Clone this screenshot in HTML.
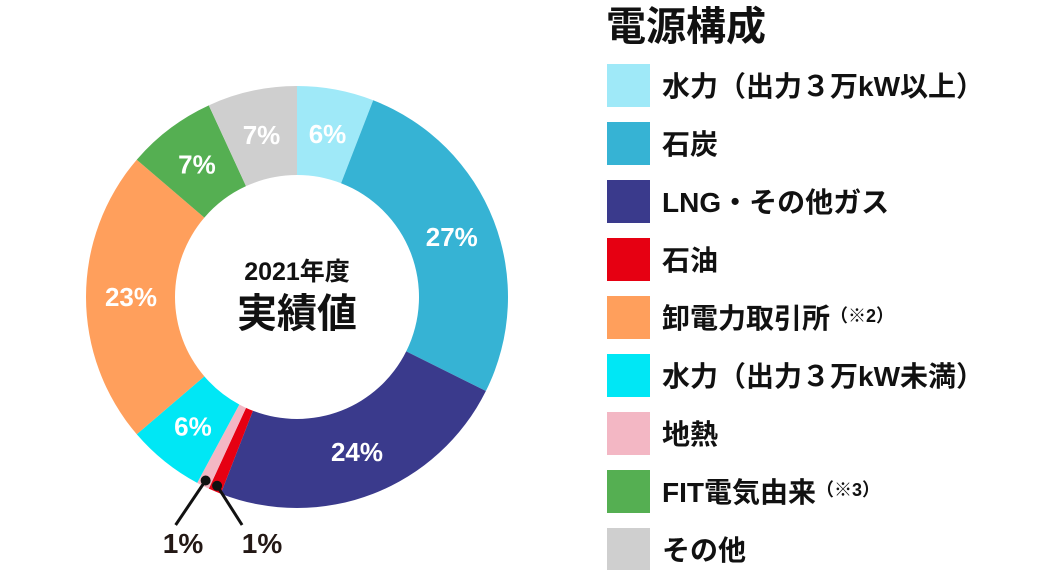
<!DOCTYPE html>
<html><head><meta charset="utf-8"><style>
body{margin:0;width:1050px;height:570px;background:#fff;overflow:hidden;font-family:"Liberation Sans","Noto Sans CJK JP",sans-serif}
svg text{font-family:"Liberation Sans","Noto Sans CJK JP",sans-serif;font-weight:bold}
</style></head><body>
<svg id="c" width="1050" height="570"></svg>
<script>
const categories=["水力（出力３万kW以上）","石炭","LNG・その他ガス","石油","卸電力取引所","水力（出力３万kW未満）","地熱","FIT電気由来","その他"];
const legendSup=["","","","","（※2）","","","（※3）",""];
const values=[6,27,24,1,23,6,1,7,7];
const labels=["6%","27%","24%","1%","23%","6%","1%","7%","7%"];
const colors=["#9fe9f8","#36b3d4","#3a3a8c","#e60012","#ff9f5c","#00e7f5","#f3b7c4","#55af52","#cfcfcf"];
// pie order clockwise from top
const pieOrder=[0,1,2,3,6,5,4,7,8];
const NS="http://www.w3.org/2000/svg",svg=document.getElementById('c');
function mk(t,a,p){const e=document.createElementNS(NS,t);for(const k in a)e.setAttribute(k,a[k]);(p||svg).appendChild(e);return e;}
const cx=297,cy=297,R=211,r=122;
const total=pieOrder.reduce((s,i)=>s+values[i],0);
function pt(a,rad){return [cx+rad*Math.sin(a),cy-rad*Math.cos(a)];}
let acc=0;
pieOrder.forEach(i=>{
 const a0=acc/total*2*Math.PI;acc+=values[i];const a1=acc/total*2*Math.PI;
 const lg=(a1-a0)>Math.PI?1:0;
 const p0=pt(a0,R),p1=pt(a1,R),q1=pt(a1,r),q0=pt(a0,r);
 const e=mk('path',{d:`M${p0}A${R},${R} 0 ${lg} 1 ${p1}L${q1}A${r},${r} 0 ${lg} 0 ${q0}Z`,fill:colors[i]});
 
 
 const am=(a0+a1)/2;
 if(values[i]>=3){
  const m=pt(am,166);
  const t=mk('text',{x:m[0],y:m[1]+9,'text-anchor':'middle','font-size':26,fill:'#fff'});t.textContent=labels[i];
  
  
 } else {
  const d=pt(am,R-6);
  const tx=(i===6)?183:262;
  const lx=(i===6)?d[0]-30:d[0]+25;
  const ln=mk('line',{x1:d[0],y1:d[1],x2:lx,y2:525,stroke:'#111','stroke-width':3});
  
  
  mk('circle',{cx:d[0],cy:d[1],r:5,fill:'#111'});
  const t=mk('text',{x:tx,y:553,'text-anchor':'middle','font-size':28,fill:'#231815'});t.textContent=labels[i];
  
  
 }
});
let t=mk('text',{x:cx,y:280,'text-anchor':'middle','font-size':25,fill:'#111'});t.textContent="2021年度";

t=mk('text',{x:cx,y:327,'text-anchor':'middle','font-size':40,fill:'#111'});t.textContent="実績値";

t=mk('text',{x:606,y:40,'font-size':40,fill:'#111'});t.textContent="電源構成";

categories.forEach((c,i)=>{
 const y=86+i*58;
 const s=mk('rect',{x:607,y:y-22,width:43,height:43,fill:colors[i]});
 
 const tx=mk('text',{x:662,y:y+10,'font-size':28,fill:'#111'});tx.textContent=c;
 if(legendSup[i]){const ts=mk('tspan',{'font-size':18,dy:-6},tx);ts.textContent=legendSup[i];}
 
});
</script>
</body></html>
